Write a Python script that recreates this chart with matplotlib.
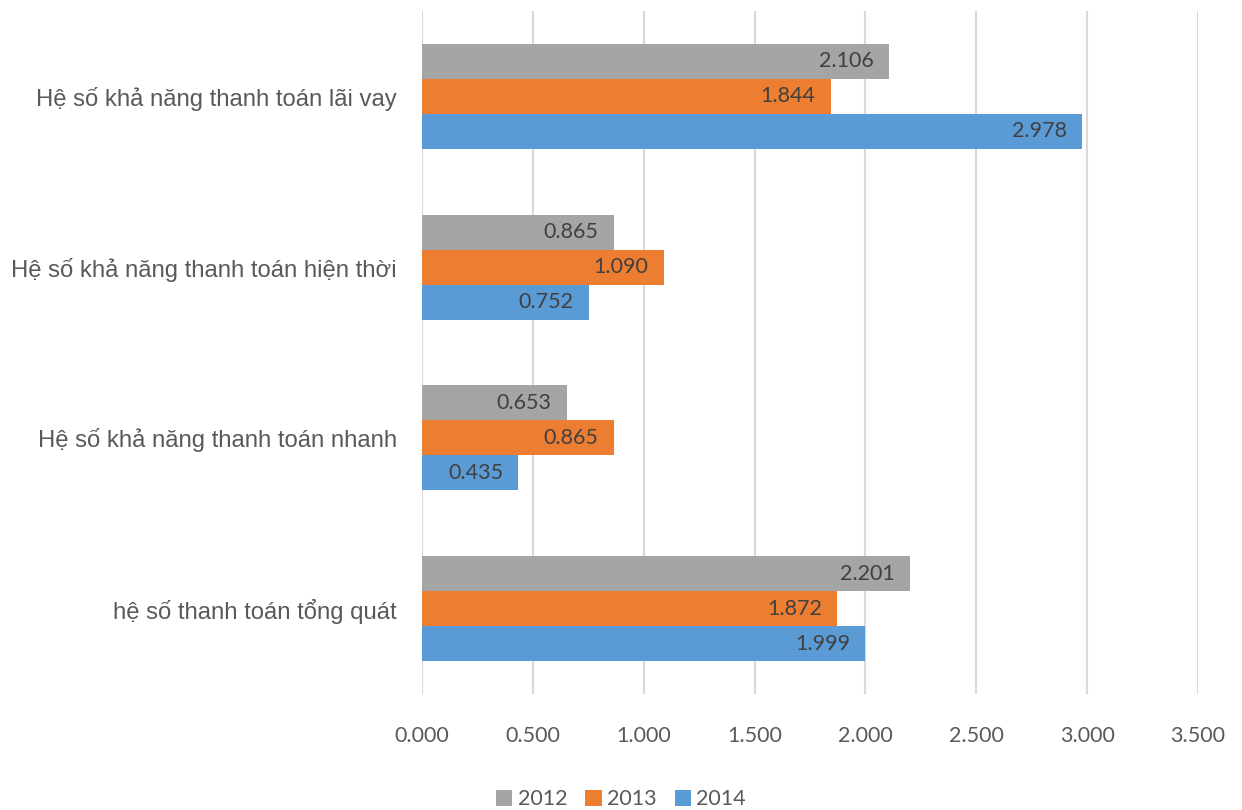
import matplotlib.pyplot as plt
import numpy as np

categories = [
    "Hệ số khả năng thanh toán lãi vay",
    "Hệ số khả năng thanh toán hiện thời",
    "Hệ số khả năng thanh toán nhanh",
    "hệ số thanh toán tổng quát",
]
years = ["2012", "2013", "2014"]
v2012 = [2.106, 0.865, 0.653, 2.201]
v2013 = [1.844, 1.090, 0.865, 1.872]
v2014 = [2.978, 0.752, 0.435, 1.999]
colors = ["#A5A5A5", "#ED7D31", "#5B9BD5"]
xticks = [0, 0.5, 1.0, 1.5, 2.0, 2.5, 3.0, 3.5]


def main() -> None:
    fig = plt.figure(figsize=(12.42, 8.1), dpi=100)
    ax = fig.add_axes([0.3398, 0.1432, 0.6248, 0.8432])

    y = np.arange(len(categories))
    h = 0.205
    for k, (vals, lab, c) in enumerate(zip([v2012, v2013, v2014], years, colors)):
        pos = y + (k - 1) * h
        bars = ax.barh(pos, vals, height=h, color=c, label=lab, zorder=3)
        for b, v in zip(bars, vals):
            ax.annotate(f"{v:.3f}", (v, b.get_y() + h / 2), xytext=(-11, 0),
                        textcoords="offset points", ha="right", va="center",
                        fontsize=15.5, color="#404040", family="Lato", zorder=4)

    ax.set_ylim(len(categories) - 0.5, -0.5)
    ax.set_xlim(0, 3.5)
    ax.set_yticks(y, labels=categories)
    ax.set_xticks(xticks, labels=[f"{t:.3f}" for t in xticks])
    for lab in ax.get_yticklabels():
        lab.set_family("Liberation Sans")
        lab.set_fontsize(17.2)
        lab.set_color("#595959")
    for lab in ax.get_xticklabels():
        lab.set_family("Lato")
        lab.set_fontsize(15.5)
        lab.set_color("#595959")
    ax.tick_params(axis="y", length=0, pad=18)
    ax.tick_params(axis="x", length=0, pad=23)
    ax.grid(axis="x", color="#D9D9D9", linewidth=1.5, zorder=0)
    for s in ["top", "right", "bottom", "left"]:
        ax.spines[s].set_visible(False)

    fig.legend(loc="center", bbox_to_anchor=(0.5, 0.013), ncol=3, frameon=False,
               handlelength=0.75, handleheight=0.75, handletextpad=0.25,
               columnspacing=0.85, prop={"family": "Lato", "size": 15.5},
               labelcolor="#595959")

    fig.savefig("out.png", dpi=100)
    plt.close(fig)


if __name__ == "__main__":
    main()
